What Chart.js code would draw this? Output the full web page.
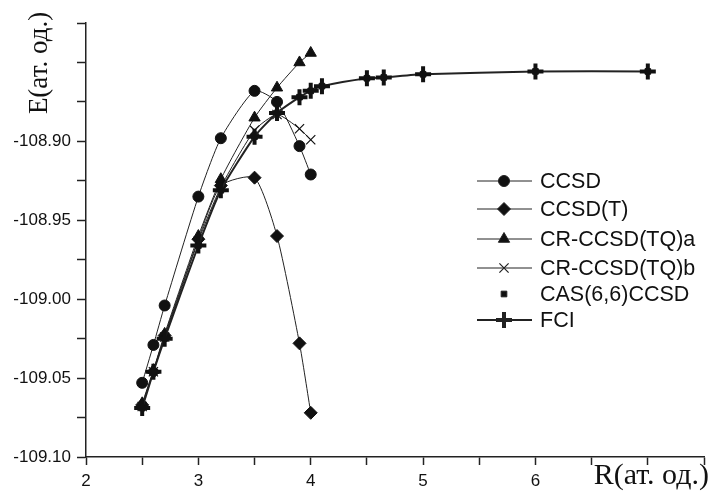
<!DOCTYPE html>
<html>
<head>
<meta charset="utf-8">
<script src="https://cdn.jsdelivr.net/npm/chart.js@4.4.1/dist/chart.umd.min.js"></script>
<style>
  html, body { margin: 0; padding: 0; background: #fff; }
</style>
</head>
<body>
<canvas id="chart" width="710" height="494"></canvas>
<script>
// data (R in at. units, E in at. units)
var rShort = [2.5, 2.6, 2.7, 3.0, 3.2, 3.5, 3.7, 3.9, 4.0];
var eCCSD = [-109.053, -109.029, -109.004, -108.935, -108.898, -108.868, -108.875, -108.903, -108.921];
var eCCSDT = [-109.067, -109.046, -109.023, -108.962, -108.928, -108.923, -108.960, -109.028, -109.072];
var eTQa = [-109.066, -109.045, -109.022, -108.960, -108.924, -108.885, -108.866, -108.850, -108.844];
var eTQb = [-109.068, -109.046, -109.024, -108.963, -108.929, -108.893, -108.883, -108.892, -108.899];

var rLong = [2.5, 2.6, 2.7, 3.0, 3.2, 3.5, 3.7, 3.9, 4.0, 4.1, 4.5, 4.65, 5.0, 6.0, 7.0];
var eCAS = [-109.069, -109.046, -109.025, -108.966, -108.931, -108.897, -108.882, -108.872, -108.868, -108.865, -108.860, -108.8595, -108.8575, -108.8557, -108.8557];
var eFCI = [-109.069, -109.046, -109.025, -108.966, -108.931, -108.897, -108.882, -108.872, -108.868, -108.865, -108.860, -108.8595, -108.8575, -108.8557, -108.8557];

var seriesNames = ['CCSD', 'CCSD(T)', 'CR-CCSD(TQ)a', 'CR-CCSD(TQ)b', 'CAS(6,6)CCSD', 'FCI'];
var xTickLabels = ['2', '3', '4', '5', '6'];
var yTickLabels = ['-108.90', '-108.95', '-109.00', '-109.05', '-109.10'];
var xTitle = 'R(ат. од.)';
var yTitle = 'E(ат. од.)';

function pts(xs, ys) {
  return xs.map(function(x, i) { return { x: x, y: ys[i] }; });
}

var ink = '#111';
var lineInk = '#222';

function series(label, xs, ys, style, extra) {
  var ds = {
    label: label,
    data: pts(xs, ys),
    borderColor: lineInk,
    backgroundColor: ink,
    pointBackgroundColor: ink,
    pointBorderColor: ink,
    borderWidth: 1,
    pointStyle: style,
    pointRadius: 5.5,
    pointBorderWidth: 1,
    tension: 0.2,
    order: 2
  };
  for (var k in extra) ds[k] = extra[k];
  return ds;
}

var datasets = [
  series(seriesNames[0], rShort, eCCSD, 'circle', { pointRadius: 5.5 }),
  series(seriesNames[1], rShort, eCCSDT, 'rectRot', { pointRadius: 6.5 }),
  series(seriesNames[2], rShort, eTQa, 'triangle', { pointRadius: 6.5 }),
  series(seriesNames[3], rShort, eTQb, 'crossRot', { pointRadius: 6.5, pointBorderWidth: 1.2 }),
  series(seriesNames[4], rLong, eCAS, 'rect', { pointRadius: 4, showLine: false, order: 1 }),
  series(seriesNames[5], rLong, eFCI, 'cross', { pointRadius: 8, pointBorderWidth: 4, borderWidth: 2, order: 0 })
];

// legend drawn like the original: line - marker - line, then the name
var legendRows = [181, 209, 239, 268, 294, 320];
var customLegend = {
  id: 'customLegend',
  afterDraw: function(chart) {
    var ctx = chart.ctx;
    ctx.save();
    chart.data.datasets.forEach(function(ds, i) {
      var y = legendRows[i];
      ctx.strokeStyle = lineInk;
      ctx.fillStyle = ink;
      if (ds.showLine !== false) {
        ctx.lineWidth = ds.borderWidth;
        ctx.beginPath();
        ctx.moveTo(477, y);
        ctx.lineTo(532, y);
        ctx.stroke();
      }
      ctx.lineWidth = ds.pointBorderWidth;
      Chart.helpers.drawPoint(ctx, {
        pointStyle: ds.pointStyle,
        radius: ds.pointRadius,
        rotation: 0,
        borderWidth: ds.pointBorderWidth
      }, 504, y);
      ctx.fillStyle = ink;
      ctx.font = '21.5px "Liberation Sans", Arial, sans-serif';
      ctx.textAlign = 'left';
      ctx.textBaseline = 'middle';
      ctx.fillText(ds.label, 540, y + 1);
    });

    // axis titles sit where the last tick labels would be
    ctx.fillStyle = ink;
    ctx.textBaseline = 'middle';
    ctx.font = '30px "Liberation Serif", "Times New Roman", serif';
    ctx.textAlign = 'right';
    ctx.fillText(xTitle, 709, 476);
    ctx.font = '27px "Liberation Serif", "Times New Roman", serif';
    ctx.translate(40, 63);
    ctx.rotate(-Math.PI / 2);
    ctx.textAlign = 'center';
    ctx.fillText(yTitle, 0, 0);
    ctx.restore();
  }
};

var tickFont = { family: '"Liberation Sans", Arial, sans-serif', size: 17 };

new Chart(document.getElementById('chart').getContext('2d'), {
  type: 'line',
  data: { datasets: datasets },
  options: {
    responsive: false,
    animation: false,
    layout: { autoPadding: false, padding: { top: 23, right: 1, left: 0, bottom: 0 } },
    plugins: { legend: { display: false }, tooltip: { enabled: false } },
    scales: {
      x: {
        type: 'linear',
        min: 2,
        max: 7.5,
        ticks: {
          stepSize: 0.5,
          autoSkip: false,
          maxRotation: 0,
          padding: 6,
          color: ink,
          font: tickFont,
          callback: function(v) {
            var s = String(Math.round(v * 10) / 10);
            return xTickLabels.indexOf(s) >= 0 ? s : '';
          }
        },
        grid: { drawOnChartArea: false, tickLength: 8, tickWidth: 1.5, tickColor: lineInk },
        border: { color: lineInk, width: 1.5 },
        afterFit: function(s) { s.height = 37; }
      },
      y: {
        min: -109.10,
        max: -108.825,
        ticks: {
          stepSize: 0.025,
          autoSkip: false,
          padding: 6,
          color: ink,
          font: tickFont,
          callback: function(v) {
            var s = (Math.round(v * 1000) / 1000).toFixed(2);
            var exact = Math.abs(Number(s) - v) < 1e-6;
            return exact && yTickLabels.indexOf(s) >= 0 ? s : '';
          }
        },
        grid: { drawOnChartArea: false, tickLength: 9, tickWidth: 1.5, tickColor: lineInk },
        border: { color: lineInk, width: 1.5 },
        afterFit: function(s) { s.width = 86; }
      }
    }
  },
  plugins: [customLegend]
});
</script>
</body>
</html>
